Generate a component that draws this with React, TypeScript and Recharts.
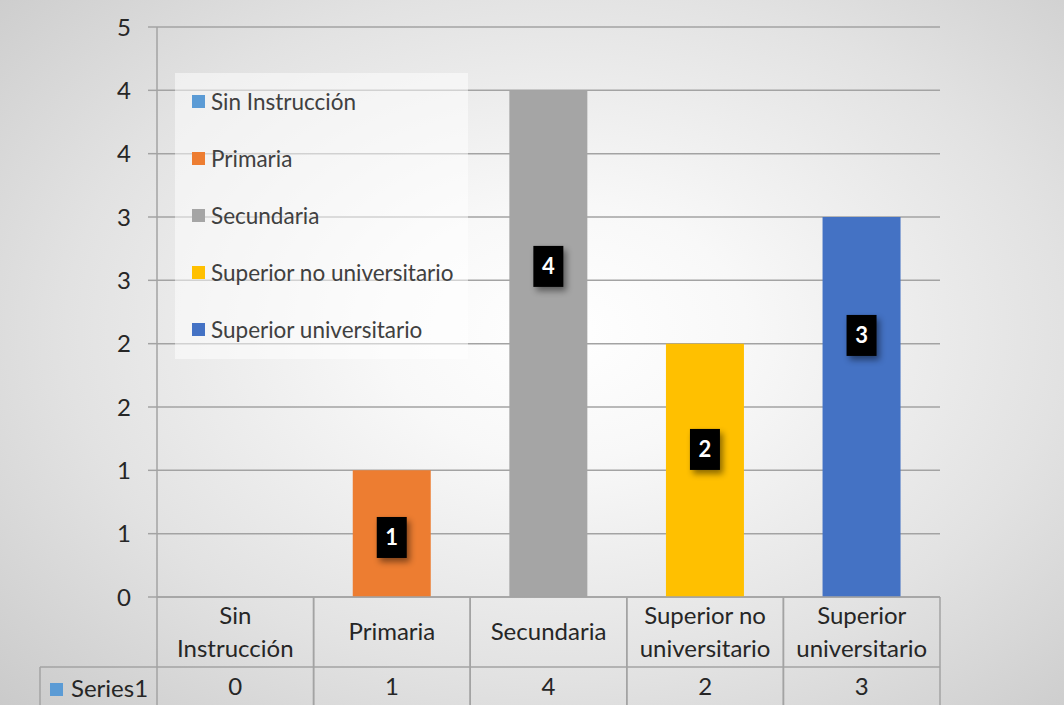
import React from 'react';
import { BarChart, Bar, XAxis, YAxis, CartesianGrid, Cell, Legend, LabelList } from 'recharts';

// ---- data ----
const categories = ['Sin Instrucción', 'Primaria', 'Secundaria', 'Superior no universitario', 'Superior universitario'];
const tickLabelLines = [['Sin', 'Instrucción'], ['Primaria'], ['Secundaria'], ['Superior no', 'universitario'], ['Superior', 'universitario']];
const values = [0, 1, 4, 2, 3];
const colors = ['#5B9BD5', '#ED7D31', '#A5A5A5', '#FFC000', '#4472C4'];
// where (in value units) each data-label box is centred on its bar
const labelAnchors = [0, 0.47, 2.61, 1.165, 2.065];
const yTicks = [0, 0.5, 1, 1.5, 2, 2.5, 3, 3.5, 4, 4.5];
const seriesName = 'Series1';

const data = categories.map((c, i) => ({ name: c, value: values[i], labelAt: labelAnchors[i] }));

const FONT = 'Lato, "Noto Sans", sans-serif';
const TEXT = '#262626';
const LINE = '#a3a3a3';
const TABLE_FS = 24;

const TableTick = (props: any) => {
  const { x, y, payload, width, visibleTicksCount } = props;
  const i = categories.indexOf(payload.value);
  const half = width / visibleTicksCount / 2;
  const row1 = 70;
  const bottom = 108;
  const headerW = 117;
  const lines = tickLabelLines[i] || [String(payload.value)];
  const lh = 33;
  const c1 = y + row1 / 2;
  const startY = c1 - ((lines.length - 1) * lh) / 2;
  return (
    <g>
      {lines.map((l, k) => (
        <text key={k} x={x} y={startY + k * lh} dy="0.35em" textAnchor="middle" fontFamily={FONT} fontSize={TABLE_FS} fill={TEXT}>
          {l}
        </text>
      ))}
      <text x={x} y={y + row1 + 20} dy="0.35em" textAnchor="middle" fontFamily={FONT} fontSize={TABLE_FS} fill={TEXT}>
        {values[i]}
      </text>
      <line x1={x - half} y1={y} x2={x - half} y2={y + bottom} stroke={LINE} strokeWidth={1.5} />
      <line x1={x + half} y1={y} x2={x + half} y2={y + bottom} stroke={LINE} strokeWidth={1.5} />
      <line x1={x - half - (i === 0 ? headerW : 0)} y1={y + row1} x2={x + half} y2={y + row1} stroke={LINE} strokeWidth={1.5} />
      {i === 0 && (
        <g>
          <line x1={x - half - headerW} y1={y + row1} x2={x - half - headerW} y2={y + bottom} stroke={LINE} strokeWidth={1.5} />
          <rect x={x - half - headerW + 10} y={y + row1 + 16} width={13} height={13} fill={colors[0]} />
          <text x={x - half - headerW + 31} y={y + row1 + 22} dy="0.35em" textAnchor="start" fontFamily={FONT} fontSize={TABLE_FS} fill={TEXT}>
            {seriesName}
          </text>
        </g>
      )}
    </g>
  );
};

const DataLabel = (props: any) => {
  const { x, y, width, height, value } = props;
  const idx = categories.indexOf(value);
  const v = values[idx];
  if (!v) return null;
  const anchor = labelAnchors[idx];
  const cx = x + width / 2;
  const cy = y + height - (anchor / v) * height;
  return (
    <g>
      <rect x={cx - 15} y={cy - 20.5} width={30} height={41} fill="#000" style={{ filter: 'drop-shadow(3px 4px 3px rgba(0,0,0,0.45))' }} />
      <text x={cx} y={cy} dy="0.36em" textAnchor="middle" fontFamily={FONT} fontWeight={700} fontSize={22} fill="#fff">
        {v}
      </text>
    </g>
  );
};

const LegendBox = () => (
  <div style={{ width: '100%', height: '100%', background: 'rgba(255,255,255,0.5)', boxSizing: 'border-box', paddingLeft: 17 }}>
    {categories.map((c, i) => (
      <div key={c} style={{ height: 57, display: 'flex', alignItems: 'center' }}>
        <span style={{ display: 'inline-block', width: 13, height: 13, background: colors[i], marginRight: 6 }} />
        <span style={{ fontFamily: FONT, fontSize: 22.5, color: '#404040', whiteSpace: 'nowrap', lineHeight: '22px' }}>{c}</span>
      </div>
    ))}
  </div>
);

export default function App() {
  return (
    <div
      style={{
        position: 'absolute',
        left: 0,
        top: 0,
        width: 1064,
        height: 705,
        background: 'radial-gradient(ellipse 78% 82% at 53% 47%, #ffffff 0%, #f8f8f8 22%, #e2e2e2 60%, #c6c6c6 100%)',
        overflow: 'hidden',
      }}
    >
      <BarChart width={1064} height={705} data={data} margin={{ top: 27, right: 124, bottom: 0, left: 0 }} barCategoryGap="25%">
        <CartesianGrid vertical={false} stroke={LINE} strokeWidth={1.5} />
        <YAxis
          type="number"
          domain={[0, 4.5]}
          ticks={yTicks}
          interval={0}
          width={157}
          tickSize={9}
          tickMargin={17}
          tickFormatter={(v: number) => String(Math.round(v))}
          tick={{ fill: TEXT, fontSize: 24, fontFamily: FONT }}
          axisLine={{ stroke: LINE, strokeWidth: 1.5 }}
          tickLine={{ stroke: LINE, strokeWidth: 1.5 }}
        />
        <XAxis
          dataKey="name"
          height={108}
          interval={0}
          tickSize={0}
          tickMargin={0}
          tickLine={false}
          axisLine={{ stroke: LINE, strokeWidth: 1.5 }}
          tick={<TableTick />}
        />
        <Legend
          layout="vertical"
          align="center"
          verticalAlign="middle"
          content={<LegendBox />}
          wrapperStyle={{ position: 'absolute', left: 175, top: 73, width: 293, height: 286 }}
        />
        <Bar dataKey="value" isAnimationActive={false}>
          {data.map((d, i) => (
            <Cell key={d.name} fill={colors[i]} />
          ))}
          <LabelList dataKey="name" content={<DataLabel />} />
        </Bar>
      </BarChart>
    </div>
  );
}
